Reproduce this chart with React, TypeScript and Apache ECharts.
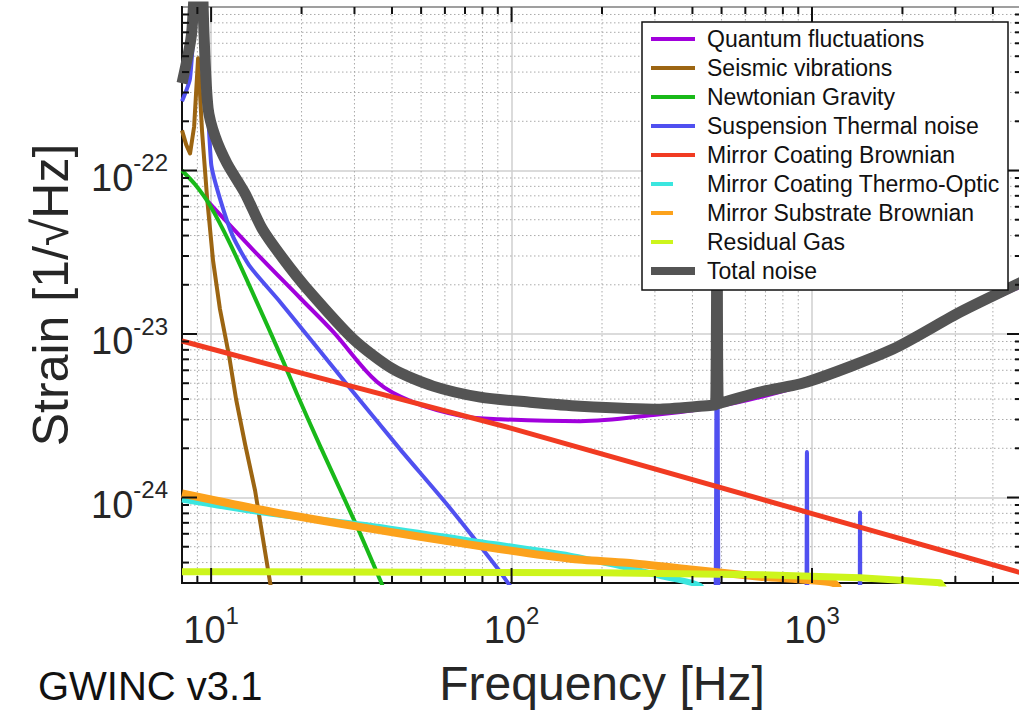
import React, { useEffect, useRef } from 'react';
import * as echarts from 'echarts';

const FONT = "'Liberation Sans', Arial, Helvetica, sans-serif";

// ---- data (frequency [Hz], strain [1/sqrt(Hz)]) ----
const quantumNoise = [
  [9.77, 6.45e-23], [13.69, 3.32e-23], [19.78, 1.66e-23], [25.5, 1.03e-23], [35.7, 5.08e-24],
  [47.0, 3.83e-24], [69.0, 3.14e-24], [91.6, 3.01e-24], [169, 2.93e-24], [312, 3.23e-24],
  [424, 3.47e-24], [576, 3.85e-24], [962, 4.93e-24], [1861, 7.87e-24], [3109, 1.31e-23], [5000, 1.97e-23],
];
const seismicNoise = [
  [8, 1.76e-22], [8.26, 1.44e-22], [8.51, 1.27e-22], [8.78, 1.86e-22], [9.05, 4.86e-22], [9.33, 1.73e-22],
  [9.7, 6.73e-23], [10.15, 2.81e-23], [10.7, 1.42e-23], [11.48, 7.33e-24], [12.11, 3.99e-24],
  [12.98, 2.11e-24], [14.01, 1.1e-24], [15.72, 3.01e-25], [16.08, 2.37e-25],
];
const newtonianNoise = [
  [8, 1.0e-22], [8.85, 8.2e-23], [9.92, 6.1e-23], [11.57, 3.56e-23], [13.8, 1.76e-23], [17.36, 6.83e-24],
  [19.33, 4.28e-24], [23.06, 2.06e-24], [30.6, 6.64e-25], [36.5, 3.14e-25], [37.9, 2.65e-25],
];
const suspensionNoise = [
  [8, 2.65e-22], [8.51, 3.67e-22], [9.12, 2.0e-21], [10.0, 1.104e-22], [10.7, 6.73e-23], [11.83, 3.94e-23],
  [13.48, 2.58e-23], [16.97, 1.57e-23], [29.0, 4.66e-24], [42.6, 1.97e-24], [61.0, 9.06e-25],
  [89.5, 3.72e-25], [98.9, 2.88e-25], [106.7, 2.37e-25],
  [470, 5e-26], [483, 1.5e-22], [496, 5e-26], [950, 5e-26], [962, 1.9e-24], [975, 5e-26],
  [1430, 5e-26], [1445, 8.1e-25], [1460, 5e-26], [5000, 5e-26],
];
const coatingBrownianNoise = [
  [8, 9.06e-24], [20, 5.76e-24], [100, 2.65e-24], [1000, 7.98e-25], [5000, 3.45e-25],
];
const thermoOpticNoise = [
  [8, 9.72e-25], [15.72, 7.97e-25], [33.8, 6.73e-25], [72.8, 5.45e-25], [156.5, 4.41e-25],
  [242, 3.72e-25], [312, 3.32e-25], [424, 2.88e-25], [440, 2.37e-25],
];
const substrateNoise = [
  [8, 1.058e-24], [15.72, 8.21e-25], [33.8, 6.45e-25], [72.8, 5.15e-25], [156.5, 4.22e-25],
  [242, 3.99e-25], [402, 3.62e-25], [671, 3.28e-25], [1174, 3.01e-25], [1239, 2.65e-25],
];
const residualGasNoise = [
  [8, 3.52e-25], [197, 3.47e-25], [671, 3.37e-25], [1445, 3.23e-25], [2667, 3.01e-25], [2771, 2.7e-25],
];
const totalNoise = [
  [8, 3.42e-22], [8.62, 7e-22], [9.12, 5e-21], [9.48, 6.46e-22], [9.77, 2.4e-22], [10.31, 1.617e-22],
  [11.3, 1.104e-22], [12.98, 7.23e-23], [14.78, 4.41e-23], [17.36, 2.89e-23], [20.87, 1.89e-23],
  [29.7, 9.32e-24], [40.3, 6.1e-24], [54.8, 4.8e-24], [78.6, 4.11e-24], [115.2, 3.83e-24],
  [169, 3.62e-24], [312, 3.47e-24], [465, 3.67e-24], [478, 3.7e-24], [483, 1.6e-22], [488, 3.75e-24],
  [671, 4.41e-24], [962, 5.08e-24], [1861, 8.09e-24], [3109, 1.36e-23], [5000, 2.08e-23],
];

const seriesNames = [
  'Quantum fluctuations', 'Seismic vibrations', 'Newtonian Gravity', 'Suspension Thermal noise',
  'Mirror Coating Brownian', 'Mirror Coating Thermo-Optic', 'Mirror Substrate Brownian', 'Residual Gas', 'Total noise',
];
const seriesData = [
  quantumNoise, seismicNoise, newtonianNoise, suspensionNoise, coatingBrownianNoise,
  thermoOpticNoise, substrateNoise, residualGasNoise, totalNoise,
];
const seriesColors = [
  '#a100dc', '#9c6512', '#19b919', '#5050f0', '#f13b22', '#3be6df', '#fca21c', '#cdf51c', '#545454',
];
const seriesWidths = [4, 4, 4, 4, 5, 6, 8, 7, 11];
const seriesSmooth = [0.35, 0, 0.25, 0.2, 0, 0.25, 0.25, 0, 0.25];
const legendShortSample = [false, false, false, false, false, true, true, true, false];

// axis range and tick positions
const xRange = [8, 5000];
const yRange = [3e-25, 1e-21];
const xMajorTicks = [10, 100, 1000];
const xMinorTicks = [9, 20, 30, 40, 50, 60, 70, 80, 90, 200, 300, 400, 500, 600, 700, 800, 900, 2000, 3000, 4000];
const yMajorTicks = [1e-24, 1e-23, 1e-22];
const yMinorTicks = [
  4e-25, 5e-25, 6e-25, 7e-25, 8e-25, 9e-25,
  2e-24, 3e-24, 4e-24, 5e-24, 6e-24, 7e-24, 8e-24, 9e-24,
  2e-23, 3e-23, 4e-23, 5e-23, 6e-23, 7e-23, 8e-23, 9e-23,
  2e-22, 3e-22, 4e-22, 5e-22, 6e-22, 7e-22, 8e-22, 9e-22,
];

const tickItems = [
  ...xMinorTicks.map((v) => [v, 1e-23, 0]),
  ...xMajorTicks.map((v) => [v, 1e-23, 1]),
  ...yMinorTicks.map((v) => [100, v, 2]),
  ...yMajorTicks.map((v) => [100, v, 3]),
];

const TEXT_COLOR = '#262626';

const makePowFormatter = (range: number[]) => (v: number) => {
  if (v <= range[0] * 1.0001 || v >= range[1] * 0.9999) return '';
  const l = Math.log10(v);
  const e = Math.round(l);
  if (Math.abs(l - e) > 1e-6) return '';
  return `{b|10}{s|${e}}`;
};
const labelRich = {
  b: { fontSize: 38, fontFamily: FONT, color: TEXT_COLOR, lineHeight: 40, padding: [14, 0, 0, 0] },
  s: { fontSize: 24, fontFamily: FONT, color: TEXT_COLOR, lineHeight: 22, verticalAlign: 'top' },
};

export default function App() {
  const ref = useRef<HTMLDivElement>(null);

  useEffect(() => {
    if (!ref.current) return;
    const chart = echarts.init(ref.current, null, { renderer: 'svg' });

    const gridRender = (params: any, api: any) => {
      const cs = params.coordSys;
      const kind = api.value(2);
      const pt = api.coord([api.value(0), api.value(1)]);
      const style = { stroke: '#aaaaaa', lineWidth: 1, lineDash: [1.5, 2.5] };
      if (kind === 0) {
        return { type: 'line', shape: { x1: pt[0], y1: cs.y, x2: pt[0], y2: cs.y + cs.height }, style };
      }
      if (kind === 2) {
        return { type: 'line', shape: { x1: cs.x, y1: pt[1], x2: cs.x + cs.width, y2: pt[1] }, style };
      }
      return null;
    };

    const tickRender = (params: any, api: any) => {
      const cs = params.coordSys;
      const kind = api.value(2);
      const pt = api.coord([api.value(0), api.value(1)]);
      const style = { stroke: '#111', lineWidth: 2 };
      const len = kind === 1 || kind === 3 ? 15 : 7;
      if (kind === 0 || kind === 1) {
        const b = cs.y + cs.height;
        return {
          type: 'group',
          children: [
            { type: 'line', shape: { x1: pt[0], y1: b, x2: pt[0], y2: b - len }, style },
            { type: 'line', shape: { x1: pt[0], y1: cs.y, x2: pt[0], y2: cs.y + len }, style },
          ],
        };
      }
      const r = cs.x + cs.width;
      return {
        type: 'group',
        children: [
          { type: 'line', shape: { x1: cs.x, y1: pt[1], x2: cs.x + len, y2: pt[1] }, style },
          { type: 'line', shape: { x1: r, y1: pt[1], x2: r - len, y2: pt[1] }, style },
        ],
      };
    };

    const lineSeries = seriesNames.map((name, i) => ({
      type: 'line',
      name,
      data: seriesData[i],
      showSymbol: false,
      symbol: 'none',
      smooth: seriesSmooth[i] || false,
      clip: true,
      silent: true,
      z: 3,
      lineStyle: { color: seriesColors[i], width: seriesWidths[i], join: 'round' },
      itemStyle: { color: seriesColors[i] },
    }));

    const legendTop = 22;
    const legendLeft = 642;
    const rowH = 29;
    const legendGraphics: any[] = [
      {
        type: 'rect',
        shape: { x: legendLeft, y: legendTop, width: 366, height: 268 },
        style: { fill: '#fff', stroke: '#111', lineWidth: 1.5 },
        z: 100,
        silent: true,
      },
    ];
    seriesNames.forEach((name, i) => {
      const cy = legendTop + 17 + i * rowH;
      legendGraphics.push({
        type: 'line',
        shape: { x1: legendLeft + 9, y1: cy, x2: legendLeft + (legendShortSample[i] ? 31 : 53), y2: cy },
        style: { stroke: seriesColors[i], lineWidth: i === 8 ? 8 : 4 },
        z: 101,
        silent: true,
      });
      legendGraphics.push({
        type: 'text',
        x: legendLeft + 65,
        y: cy,
        style: {
          text: name,
          fontSize: 23,
          fontFamily: FONT,
          fill: '#111',
          align: 'left',
          verticalAlign: 'middle',
        },
        z: 101,
        silent: true,
      });
    });
    legendGraphics.push({
      type: 'text',
      x: 38,
      y: 686,
      style: {
        text: 'GWINC v3.1',
        fontSize: 40,
        fontFamily: FONT,
        fill: '#111',
        align: 'left',
        verticalAlign: 'middle',
      },
      z: 101,
      silent: true,
    });

    chart.setOption({
      animation: false,
      backgroundColor: '#fff',
      grid: {
        left: 182,
        top: 7,
        width: 840,
        height: 576,
        containLabel: false,
        outerBoundsMode: 'none',
        show: true,
        borderColor: '#111',
        borderWidth: 2,
        backgroundColor: 'transparent',
      },
      xAxis: {
        type: 'log',
        logBase: 10,
        min: xRange[0],
        max: xRange[1],
        axisLine: { show: true, lineStyle: { color: '#111', width: 2 } },
        axisTick: { show: false },
        splitLine: { show: true, lineStyle: { color: '#cfcfcf', width: 1.5 } },
        minorTick: { show: false },
        axisLabel: { formatter: makePowFormatter(xRange), rich: labelRich, margin: 20, color: TEXT_COLOR },
        name: 'Frequency [Hz]',
        nameLocation: 'middle',
        nameGap: 76,
        nameMoveOverlap: false,
        nameTextStyle: { fontSize: 48, fontFamily: FONT, color: TEXT_COLOR },
      },
      yAxis: {
        type: 'log',
        logBase: 10,
        min: yRange[0],
        max: yRange[1],
        axisLine: { show: true, lineStyle: { color: '#111', width: 2 } },
        axisTick: { show: false },
        splitLine: { show: true, lineStyle: { color: '#cfcfcf', width: 1.5 } },
        axisLabel: {
          formatter: makePowFormatter(yRange),
          rich: labelRich,
          margin: 14,
          color: TEXT_COLOR,
        },
        name: 'Strain [1/√Hz]',
        nameLocation: 'middle',
        nameRotate: 90,
        nameGap: 106,
        nameMoveOverlap: false,
        nameTextStyle: { fontSize: 50, fontFamily: FONT, color: TEXT_COLOR },
      },
      graphic: legendGraphics,
      series: [
        {
          type: 'custom',
          coordinateSystem: 'cartesian2d',
          data: tickItems,
          encode: { x: 0, y: 1 },
          renderItem: gridRender,
          silent: true,
          z: 1,
        },
        ...lineSeries,
        {
          type: 'custom',
          coordinateSystem: 'cartesian2d',
          data: tickItems,
          encode: { x: 0, y: 1 },
          renderItem: tickRender,
          silent: true,
          clip: false,
          z: 5,
        },
      ],
    });

    return () => chart.dispose();
  }, []);

  return (
    <div
      ref={ref}
      style={{ position: 'fixed', left: 0, top: 0, width: 1019, height: 714, background: '#fff' }}
    />
  );
}
